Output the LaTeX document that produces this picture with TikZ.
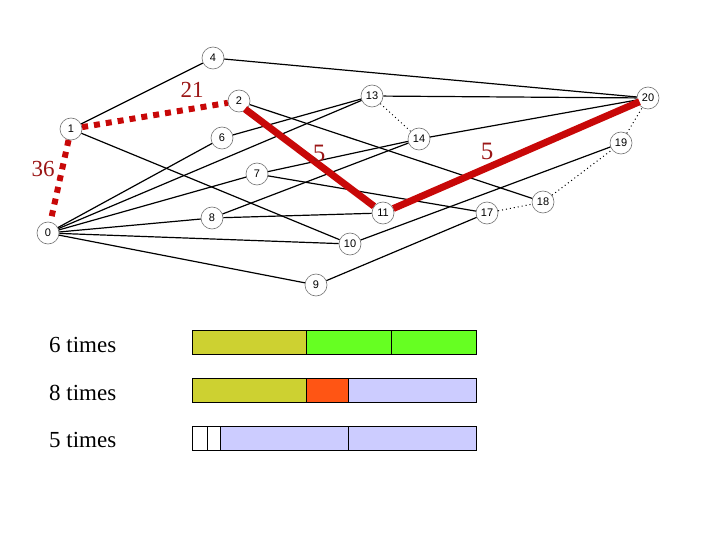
\documentclass[tikz,border=0pt]{standalone}
\usepackage{fontspec}
\setmainfont{Liberation Serif}
\newfontfamily\nodefont{Liberation Sans}
\definecolor{redline}{RGB}{200,8,8}
\definecolor{redtext}{RGB}{155,22,22}
\definecolor{olive}{RGB}{205,209,49}
\definecolor{lgreen}{RGB}{102,255,34}
\definecolor{orng}{RGB}{255,85,20}
\definecolor{lav}{RGB}{204,204,255}
\begin{document}
\begin{tikzpicture}[x=1pt,y=-1pt,
  vtx/.style={circle, draw=black!55, line width=0.6pt, fill=white, minimum size=22pt, inner sep=0pt, font=\nodefont\fontsize{11}{11}\selectfont},
  edge/.style={line width=1.2pt, black},
  dotedge/.style={line width=1pt, black, dash pattern=on 1pt off 3pt},
  redsolid/.style={line width=7pt, redline},
  reddot/.style={line width=6pt, redline, dash pattern=on 6pt off 6pt},
  lab/.style={text=redtext, inner sep=0pt, anchor=base, font=\fontsize{23}{23}\selectfont},
  lab5/.style={text=redtext, inner sep=0pt, anchor=base, font=\fontsize{25}{25}\selectfont},
  times/.style={inner sep=0pt, anchor=base west, font=\fontsize{23}{23}\selectfont},
  bar/.style={draw=black, line width=1pt}
]
\useasboundingbox (0,0) rectangle (720,540);
% nodes
\node[vtx] (n0) at (48,233) {0};
\node[vtx] (n1) at (71,129) {1};
\node[vtx] (n2) at (239,101) {2};
\node[vtx] (n4) at (213,58) {4};
\node[vtx] (n6) at (222,138) {6};
\node[vtx] (n7) at (257,174) {7};
\node[vtx] (n8) at (212,218) {8};
\node[vtx] (n9) at (316,285) {9};
\node[vtx] (n10) at (350,244) {10};
\node[vtx] (n11) at (383,213) {11};
\node[vtx] (n13) at (372,96) {13};
\node[vtx] (n14) at (419,139) {14};
\node[vtx] (n17) at (487,213) {17};
\node[vtx] (n18) at (543,202) {18};
\node[vtx] (n19) at (621,143) {19};
\node[vtx] (n20) at (648,98) {20};
% black edges
\draw[edge] (n1) -- (n4);
\draw[edge] (n4) -- (n20);
\draw[edge] (n1) -- (n10);
\draw[edge] (n2) -- (n18);
\draw[edge] (n6) -- (n13);
\draw[edge] (n0) -- (n6);
\draw[edge] (n0) -- (n13);
\draw[edge] (n0) -- (n7);
\draw[edge] (n0) -- (n8);
\draw[edge] (n0) -- (n10);
\draw[edge] (n0) -- (n9);
\draw[edge] (n7) -- (n14);
\draw[edge] (n7) -- (n17);
\draw[edge] (n8) -- (n14);
\draw[edge] (n8) -- (n11);
\draw[edge] (n13) -- (n20);
\draw[edge] (n14) -- (n20);
\draw[edge] (n10) -- (n19);
\draw[edge] (n9) -- (n17);
\draw[dotedge] (n13) -- (n14);
\draw[dotedge] (n17) -- (n18);
\draw[dotedge] (n18) -- (n19);
\draw[dotedge] (n19) -- (n20);
% red edges
\draw[reddot] (n1) -- (n2);
\draw[reddot] (n1) -- (n0);
\draw[redsolid] (n2.center) ++(6,8) coordinate (s2) (s2) -- (n11);
\draw[redsolid, shorten >=-2pt] (n11) -- (n20);
% labels
\node[lab] (l21) at (192,98) {21};
\node[lab] (l36) at (43,177) {36};
\node[lab5] (l5a) at (319,162) {5};
\node[lab5] (l5b) at (487,160) {5};
% times
\node[times] (t6) at (49,352) {6 times};
\node[times] (t8) at (49,400) {8 times};
\node[times] (t5) at (49,447) {5 times};
% bars
\filldraw[bar, fill=olive] (192,330) rectangle (306,354);
\filldraw[bar, fill=lgreen] (306,330) rectangle (391,354);
\filldraw[bar, fill=lgreen] (391,330) rectangle (476,354);
\filldraw[bar, fill=olive] (192,378) rectangle (306,402);
\filldraw[bar, fill=orng] (306,378) rectangle (348,402);
\filldraw[bar, fill=lav] (348,378) rectangle (476,402);
\filldraw[bar, fill=white] (192,426) rectangle (207,450);
\filldraw[bar, fill=white] (207,426) rectangle (220,450);
\filldraw[bar, fill=lav] (220,426) rectangle (348,450);
\filldraw[bar, fill=lav] (348,426) rectangle (476,450);
\end{tikzpicture}
\end{document}
